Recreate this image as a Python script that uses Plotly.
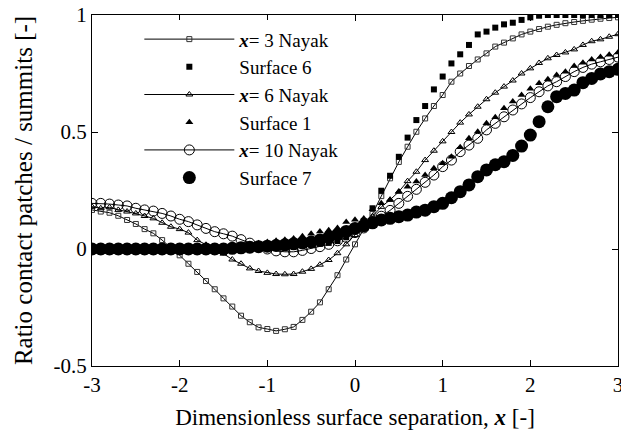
import plotly.graph_objects as go

# x grid: -3 .. 3 step 0.1
xs = [round(-3 + 0.1 * i, 1) for i in range(61)]

nayak3 = [0.167, 0.160, 0.155, 0.142, 0.124, 0.107, 0.085, 0.067, 0.038, 0.006,
          -0.027, -0.063, -0.098, -0.137, -0.172, -0.211, -0.246, -0.285, -0.313, -0.335,
          -0.342, -0.350, -0.343, -0.333, -0.303, -0.268, -0.228, -0.172, -0.112, -0.045,
          0.020, 0.085, 0.150, 0.226, 0.302, 0.372, 0.437, 0.501, 0.558, 0.611,
          0.658, 0.715, 0.750, 0.782, 0.810, 0.836, 0.865, 0.882, 0.900, 0.917,
          0.929, 0.940, 0.950, 0.958, 0.965, 0.970, 0.975, 0.980, 0.984, 0.987, 0.990]

surface6 = [0.0, 0.0, 0.0, 0.0, 0.0, 0.0, 0.0, 0.0, 0.0, 0.0,
            0.0, 0.0, 0.0, 0.0, 0.002, 0.004, 0.005, 0.006, 0.008, 0.009,
            0.010, 0.012, 0.013, 0.015, 0.018, 0.020, 0.022, 0.026, 0.034, 0.050,
            0.080, 0.120, 0.174, 0.249, 0.313, 0.394, 0.476, 0.551, 0.611, 0.682,
            0.737, 0.793, 0.832, 0.872, 0.917, 0.929, 0.946, 0.960, 0.967, 0.979,
            0.990, 0.997, 1.0, 1.0, 1.0, 1.0, 1.0, 1.0, 1.0, 1.0, 1.0]

nayak6 = [0.181, 0.174, 0.178, 0.167, 0.160, 0.152, 0.141, 0.131, 0.112, 0.095,
          0.085, 0.070, 0.038, 0.018, 0.000, -0.020, -0.045, -0.063, -0.083, -0.094,
          -0.102, -0.107, -0.108, -0.107, -0.097, -0.085, -0.067, -0.047, -0.018, 0.020,
          0.060, 0.100, 0.140, 0.180, 0.210, 0.245, 0.290, 0.330, 0.380, 0.420,
          0.460, 0.500, 0.540, 0.575, 0.608, 0.640, 0.668, 0.694, 0.720, 0.750,
          0.772, 0.795, 0.815, 0.829, 0.840, 0.853, 0.872, 0.888, 0.896, 0.907, 0.918]

surface1 = [0.0, 0.0, 0.0, 0.0, 0.0, 0.0, 0.0, 0.0, 0.0, 0.0,
            0.0, 0.0, 0.0, 0.0, 0.0, 0.005, 0.010, 0.015, 0.020, 0.025,
            0.030, 0.035, 0.040, 0.045, 0.055, 0.065, 0.075, 0.080, 0.090, 0.115,
            0.125, 0.130, 0.170, 0.195, 0.210, 0.245, 0.266, 0.288, 0.316, 0.345,
            0.366, 0.394, 0.435, 0.473, 0.501, 0.537, 0.563, 0.601, 0.630, 0.658,
            0.685, 0.708, 0.725, 0.744, 0.758, 0.782, 0.796, 0.810, 0.820, 0.830, 0.840]

nayak10 = [0.195, 0.195, 0.192, 0.188, 0.184, 0.174, 0.167, 0.162, 0.152, 0.141,
           0.127, 0.117, 0.103, 0.088, 0.074, 0.065, 0.055, 0.040, 0.025, 0.012,
           0.000, -0.008, -0.012, -0.012, -0.006, 0.002, 0.010, 0.020, 0.035, 0.050,
           0.070, 0.090, 0.115, 0.140, 0.165, 0.195, 0.225, 0.255, 0.285, 0.316,
           0.352, 0.380, 0.416, 0.444, 0.473, 0.509, 0.537, 0.565, 0.594, 0.620,
           0.647, 0.672, 0.697, 0.715, 0.737, 0.758, 0.776, 0.790, 0.800, 0.810, 0.820]

surface7 = [0.0, 0.0, 0.0, 0.0, 0.0, 0.0, 0.0, 0.0, 0.0, 0.0,
            0.0, 0.0, 0.0, 0.0, 0.0, 0.0, 0.003, 0.005, 0.008, 0.010,
            0.012, 0.015, 0.018, 0.022, 0.026, 0.030, 0.038, 0.050, 0.062, 0.075,
            0.088, 0.100, 0.112, 0.124, 0.131, 0.138, 0.145, 0.158, 0.166, 0.181,
            0.195, 0.219, 0.245, 0.274, 0.309, 0.338, 0.360, 0.373, 0.400, 0.440,
            0.487, 0.544, 0.608, 0.651, 0.665, 0.679, 0.711, 0.729, 0.748, 0.758, 0.768]

x_tickvals = [-3, -2, -1, 0, 1, 2, 3]
x_ticktext = ["-3", "-2", "-1", "0", "1", "2", "3"]
y_tickvals = [-0.5, 0, 0.5, 1]
y_ticktext = ["-0.5", "0", "0.5", "1"]

FONT = "Liberation Serif"

fig = go.Figure()

fig.add_trace(go.Scatter(x=xs, y=nayak3, mode="lines+markers",
                         name="<b><i>x</i></b>= 3 Nayak",
                         line=dict(color="black", width=1),
                         marker=dict(symbol="square-open", size=5, color="#333")))
fig.add_trace(go.Scatter(x=xs, y=surface6, mode="markers", name="Surface 6",
                         marker=dict(symbol="square", size=6, color="black")))
fig.add_trace(go.Scatter(x=xs, y=nayak6, mode="lines+markers",
                         name="<b><i>x</i></b>= 6 Nayak",
                         line=dict(color="black", width=1),
                         marker=dict(symbol="triangle-up-open", size=6, color="black")))
fig.add_trace(go.Scatter(x=xs, y=surface1, mode="markers", name="Surface 1",
                         marker=dict(symbol="triangle-up", size=7, color="black")))
fig.add_trace(go.Scatter(x=xs, y=nayak10, mode="lines+markers",
                         name="<b><i>x</i></b>= 10 Nayak",
                         line=dict(color="black", width=1),
                         marker=dict(symbol="circle-open", size=10, color="black")))
fig.add_trace(go.Scatter(x=xs, y=surface7, mode="markers", name="Surface 7",
                         marker=dict(symbol="circle", size=13, color="black")))

fig.update_xaxes(range=[-3, 3], tickvals=x_tickvals, ticktext=x_ticktext,
                 showline=True, mirror="ticks", ticks="inside", ticklen=6,
                 linecolor="black", tickcolor="black", showgrid=False, zeroline=False,
                 ticklabeloverflow="allow",
                 tickfont=dict(family=FONT, size=21, color="black"),
                 title=dict(text="Dimensionless surface separation, <b><i>x</i></b> [-]",
                            font=dict(family=FONT, size=23, color="black")))
fig.update_yaxes(range=[-0.5, 1], tickvals=y_tickvals, ticktext=y_ticktext,
                 showline=True, mirror="ticks", ticks="inside", ticklen=6,
                 linecolor="black", tickcolor="black", showgrid=False, zeroline=False,
                 tickfont=dict(family=FONT, size=21, color="black"),
                 title=dict(text="Ratio contact patches / summits [-]",
                            font=dict(family=FONT, size=25, color="black")))

fig.update_layout(
    template="none",
    width=621, height=430,
    margin=dict(l=92, r=3, t=15, b=64),
    paper_bgcolor="white", plot_bgcolor="white",
    font=dict(family=FONT, color="black"),
    legend=dict(x=0.09, y=0.985, xanchor="left", yanchor="top",
                font=dict(family=FONT, size=19), itemwidth=90),
)

fig.write_html("out.html")
